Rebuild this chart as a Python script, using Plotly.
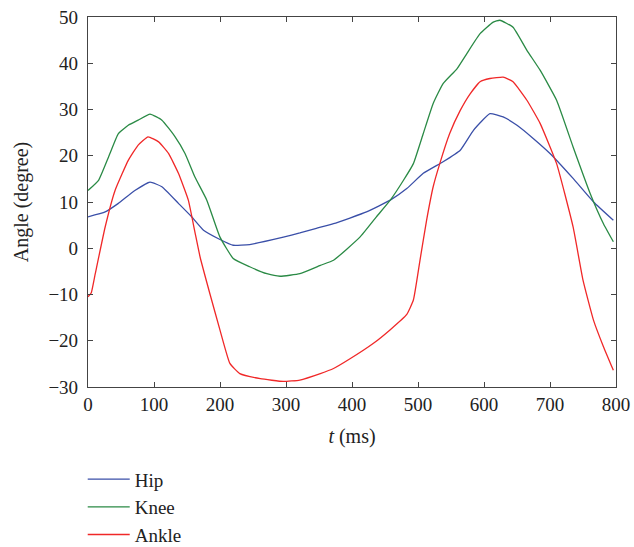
import plotly.graph_objects as go

hip_t = [0, 26, 46, 71, 94, 112, 137, 157, 175, 200, 220, 245, 296, 321, 346, 372, 422, 458, 483, 508, 538, 564, 584, 609, 629, 650, 675, 700, 735, 766, 796]
hip_y = [6.8, 7.85, 9.7, 12.5, 14.3, 13.3, 9.7, 6.8, 3.9, 1.9, 0.65, 0.8, 2.4, 3.3, 4.3, 5.3, 7.85, 10.4, 12.9, 16.2, 18.7, 21.2, 25.5, 29.1, 28.4, 26.6, 23.7, 20.5, 15.1, 10.0, 6.05]

knee_t = [0, 16, 31, 46, 61, 76, 94, 112, 132, 147, 162, 180, 200, 220, 245, 271, 291, 321, 352, 372, 412, 437, 458, 478, 493, 508, 523, 538, 559, 574, 594, 614, 624, 644, 665, 685, 710, 735, 761, 781, 796]
knee_y = [12.5, 14.7, 19.7, 24.8, 26.6, 27.7, 29.0, 27.7, 24.1, 20.5, 15.4, 10.4, 2.4, -2.2, -4.0, -5.5, -6.05, -5.5, -3.7, -2.6, 2.4, 6.8, 10.4, 14.7, 18.3, 24.8, 31.3, 35.6, 38.8, 42.1, 46.4, 48.9, 49.3, 47.8, 42.8, 38.5, 32.0, 21.9, 11.8, 5.3, 1.4]

ankle_t = [0, 5, 11, 26, 41, 61, 76, 91, 107, 122, 137, 152, 162, 170, 185, 200, 215, 230, 261, 296, 321, 352, 372, 397, 432, 458, 483, 493, 503, 513, 523, 533, 548, 564, 579, 594, 609, 629, 644, 665, 685, 710, 735, 750, 766, 781, 796]
ankle_y = [-10.5, -9.6, -5.5, 4.6, 12.5, 19.0, 22.3, 24.1, 23.0, 20.5, 16.2, 10.4, 3.5, -2.0, -10.0, -17.7, -24.9, -27.1, -28.2, -28.8, -28.5, -27.1, -26.0, -23.9, -20.6, -17.6, -14.3, -11.2, -2.6, 6.05, 13.3, 18.3, 24.8, 29.8, 33.4, 36.0, 36.7, 37.0, 36.0, 32.0, 27.0, 18.3, 4.6, -6.9, -15.6, -21.3, -26.4]

x_ticks = [0, 100, 200, 300, 400, 500, 600, 700, 800]
y_ticks = [-30, -20, -10, 0, 10, 20, 30, 40, 50]

FONT = "Liberation Serif"
fig = go.Figure()
series = [("Hip", hip_t, hip_y, "#3a4fa8"), ("Knee", knee_t, knee_y, "#2a8a45"), ("Ankle", ankle_t, ankle_y, "#f02828")]
for name, t, y, c in series:
    fig.add_trace(go.Scatter(x=t, y=y, name=name, mode="lines", legendgroup=name,
                             line=dict(color=c, width=1.3, shape="spline", smoothing=0.4)))

axis_common = dict(showgrid=False, zeroline=False, showline=True, linecolor="#444", linewidth=1.2,
                   mirror="ticks", ticks="inside", ticklen=5, tickcolor="#444", tickwidth=1.2,
                   tickfont=dict(family=FONT, size=19, color="#222"))
fig.update_xaxes(range=[0, 800], tickvals=x_ticks, ticktext=[str(v) for v in x_ticks],
                 title=dict(text="<i>t</i> (ms)", font=dict(family=FONT, size=20, color="#222"), standoff=15),
                 **axis_common)
fig.update_yaxes(range=[-30, 50], tickvals=y_ticks, ticktext=[("\u2212" + str(-v)) if v < 0 else str(v) for v in y_ticks],
                 ticklabelstandoff=5,
                 title=dict(text="Angle (degree)", font=dict(family=FONT, size=20, color="#222"), standoff=14),
                 **axis_common)
fig.update_layout(
    width=634, height=547, margin=dict(l=88, r=18, t=17, b=160, autoexpand=False),
    plot_bgcolor="white", paper_bgcolor="white",
    legend=dict(x=-0.01, y=-0.198, xanchor="left", yanchor="top", traceorder="grouped",
                tracegroupgap=0, font=dict(family=FONT, size=19, color="#222"),
                bgcolor="rgba(0,0,0,0)", itemwidth=42),
    showlegend=True,
)
fig.write_html("out.html")
